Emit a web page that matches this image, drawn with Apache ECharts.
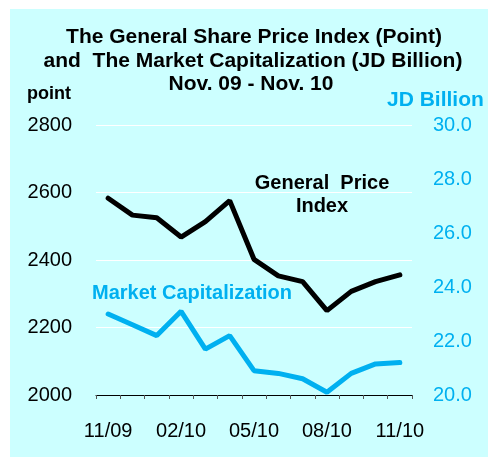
<!DOCTYPE html>
<html>
<head>
<meta charset="utf-8">
<script src="https://cdn.jsdelivr.net/npm/echarts@6/dist/echarts.min.js"></script>
<style>html,body{margin:0;padding:0;background:#fff;}#c{width:488px;height:457px;}</style>
</head>
<body>
<div id="c"></div>
<script>
var months = ['11/09','12/09','01/10','02/10','03/10','04/10','05/10','06/10','07/10','08/10','09/10','10/10','11/10'];
var priceIndex = [2583, 2533, 2525, 2468, 2514, 2576, 2402, 2353, 2336, 2250, 2307, 2336, 2356];
var marketCap = [23.0, 22.6, 22.2, 23.1, 21.7, 22.2, 20.9, 20.8, 20.6, 20.1, 20.8, 21.15, 21.2];
var leftTicks = {min: 2000, max: 2800, interval: 200};
var rightTicks = {min: 20, max: 30, interval: 2};

var FONT = '"Liberation Sans", Arial, sans-serif';
var CYAN = '#00b0f0';
var chart = echarts.init(document.getElementById('c'), null, {renderer: 'canvas'});
chart.setOption({
  animation: false,
  backgroundColor: '#ffffff',
  graphic: [
    {type: 'rect', z: -10, shape: {x: 10, y: 9, width: 478, height: 448}, style: {fill: '#ccffff'}},
    {type: 'text', x: 254, y: 37, style: {text: 'The General Share Price Index (Point)', font: 'bold 21px ' + FONT, fill: '#000', textAlign: 'center', textVerticalAlign: 'middle'}},
    {type: 'text', x: 253, y: 61, style: {text: 'and  The Market Capitalization (JD Billion)', font: 'bold 21px ' + FONT, fill: '#000', textAlign: 'center', textVerticalAlign: 'middle'}},
    {type: 'text', x: 251, y: 84, style: {text: 'Nov. 09 - Nov. 10', font: 'bold 21px ' + FONT, fill: '#000', textAlign: 'center', textVerticalAlign: 'middle'}},
    {type: 'text', x: 27, y: 94, style: {text: 'point', font: 'bold 18px ' + FONT, fill: '#000', textVerticalAlign: 'middle'}},
    {type: 'text', x: 387, y: 100, style: {text: 'JD Billion', font: 'bold 21px ' + FONT, fill: CYAN, textVerticalAlign: 'middle'}},
    {type: 'text', x: 322, y: 195, style: {text: 'General  Price\nIndex', font: 'bold 20px ' + FONT, fill: '#000', textAlign: 'center', textVerticalAlign: 'middle', lineHeight: 23}},
    {type: 'text', x: 92, y: 293, style: {text: 'Market Capitalization', font: 'bold 20px ' + FONT, fill: CYAN, textVerticalAlign: 'middle'}}
  ],
  grid: {left: 96, right: 76, top: 125, bottom: 62},
  xAxis: {
    type: 'category', data: months, boundaryGap: true,
    axisLine: {show: true, lineStyle: {color: '#000', width: 1}},
    axisTick: {show: true, interval: 0, length: 4, lineStyle: {color: '#555'}},
    axisLabel: {interval: 2, margin: 26, fontFamily: FONT, fontSize: 20, color: '#000'},
    splitLine: {show: false}
  },
  yAxis: [
    {type: 'value', min: leftTicks.min, max: leftTicks.max, interval: leftTicks.interval,
     axisLine: {show: false}, axisTick: {show: false},
     axisLabel: {margin: 24, fontFamily: FONT, fontSize: 20, color: '#000', formatter: function (v) { return String(v); }},
     splitLine: {show: true, lineStyle: {color: '#ffffff', width: 1}}},
    {type: 'value', min: rightTicks.min, max: rightTicks.max, interval: rightTicks.interval,
     axisLine: {show: false}, axisTick: {show: false},
     axisLabel: {margin: 21, fontFamily: FONT, fontSize: 20, color: CYAN, formatter: function (v) { return v.toFixed(1); }},
     splitLine: {show: false}}
  ],
  series: [
    {name: 'General Price Index', type: 'line', yAxisIndex: 0, data: priceIndex, showSymbol: false, symbol: 'none',
     lineStyle: {color: '#000', width: 5, cap: 'round'}, itemStyle: {color: '#000'}},
    {name: 'Market Capitalization', type: 'line', yAxisIndex: 1, data: marketCap, showSymbol: false, symbol: 'none',
     lineStyle: {color: CYAN, width: 5, cap: 'round'}, itemStyle: {color: CYAN}}
  ]
});
</script>
</body>
</html>
